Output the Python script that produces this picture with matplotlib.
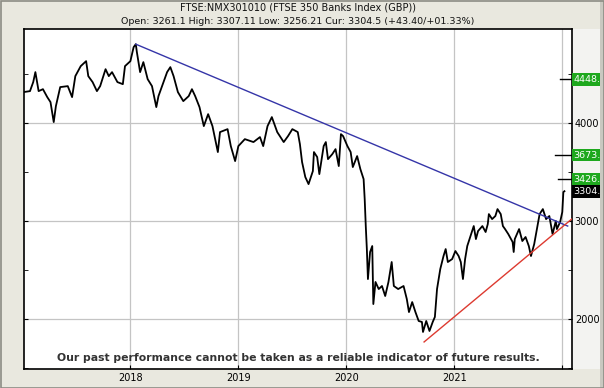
"""FTSE 350 Banks Index chart with trend lines and target levels."""
import matplotlib
matplotlib.use("Agg")
import matplotlib.pyplot as plt
import matplotlib.patches as mpatches
from matplotlib.ticker import MultipleLocator, FixedLocator

# ---- data ----
years = [2017.01, 2017.07, 2017.10, 2017.12, 2017.15, 2017.19, 2017.23, 2017.26, 2017.29, 2017.31,
         2017.35, 2017.42, 2017.46, 2017.49, 2017.54, 2017.59, 2017.61, 2017.65, 2017.69, 2017.72,
         2017.77, 2017.80, 2017.83, 2017.88, 2017.93, 2017.95, 2018.00, 2018.03, 2018.05, 2018.06,
         2018.09, 2018.12, 2018.16, 2018.20, 2018.24, 2018.26, 2018.30, 2018.34, 2018.37, 2018.40,
         2018.44, 2018.49, 2018.54, 2018.57, 2018.60, 2018.64, 2018.68, 2018.72, 2018.76, 2018.81,
         2018.83, 2018.90, 2018.93, 2018.97, 2019.00, 2019.06, 2019.14, 2019.20, 2019.23, 2019.27,
         2019.31, 2019.36, 2019.42, 2019.46, 2019.50, 2019.55, 2019.57, 2019.59, 2019.62, 2019.65,
         2019.69, 2019.70, 2019.73, 2019.75, 2019.79, 2019.81, 2019.83, 2019.87, 2019.90, 2019.93,
         2019.95, 2019.97, 2020.01, 2020.04, 2020.06, 2020.10, 2020.13, 2020.16, 2020.17, 2020.18,
         2020.19, 2020.20, 2020.22, 2020.24, 2020.25, 2020.27, 2020.30, 2020.33, 2020.36, 2020.39,
         2020.42, 2020.44, 2020.48, 2020.53, 2020.56, 2020.58, 2020.61, 2020.64, 2020.67, 2020.70,
         2020.71, 2020.74, 2020.77, 2020.80, 2020.82, 2020.84, 2020.87, 2020.90, 2020.92, 2020.94,
         2020.98, 2021.01, 2021.04, 2021.06, 2021.08, 2021.10, 2021.12, 2021.15, 2021.18, 2021.20,
         2021.22, 2021.26, 2021.29, 2021.31, 2021.32, 2021.35, 2021.38, 2021.40, 2021.43, 2021.45,
         2021.47, 2021.50, 2021.54, 2021.55, 2021.56, 2021.60, 2021.63, 2021.66, 2021.69, 2021.71,
         2021.74, 2021.77, 2021.79, 2021.82, 2021.85, 2021.88, 2021.91, 2021.94, 2021.95, 2021.98,
         2022.00, 2022.01, 2022.02]
prices = [4316, 4326, 4418, 4520, 4326, 4346, 4265, 4214, 4010, 4173,
          4367, 4377, 4265, 4479, 4581, 4632, 4479, 4418, 4326, 4377,
          4550, 4479, 4520, 4418, 4397, 4581, 4632, 4775, 4805, 4724,
          4520, 4622, 4448, 4377, 4163, 4275, 4397, 4520, 4571, 4479,
          4316, 4224, 4275, 4346, 4275, 4163, 3969, 4091, 3969, 3704,
          3908, 3938, 3765, 3612, 3765, 3836, 3806, 3857, 3765, 3969,
          4061, 3908, 3806, 3867, 3938, 3908, 3785, 3602, 3449, 3377,
          3510, 3704, 3653, 3479, 3765, 3806, 3632, 3683, 3734, 3561,
          3887, 3867, 3765, 3704, 3551, 3663, 3530, 3428, 3224, 2949,
          2714, 2408, 2684, 2745, 2153, 2378, 2306, 2337, 2235, 2378,
          2582, 2337, 2306, 2337, 2204, 2071, 2173, 2071, 1980, 1970,
          1868, 1980, 1878, 1970, 2021, 2306, 2510, 2643, 2714, 2582,
          2612, 2694, 2643, 2582, 2408, 2612, 2745, 2847, 2949, 2816,
          2898, 2949, 2888, 2969, 3071, 3020, 3051, 3122, 3071, 2949,
          2918, 2867, 2786, 2684, 2816, 2918, 2796, 2837, 2745, 2643,
          2765, 2949, 3071, 3122, 3020, 3051, 2867, 3000, 2918, 2990,
          3092, 3296, 3304.5]

down_trend_x = [2018.05, 2022.05]
down_trend_y = [4805, 2949]
up_trend_x = [2020.72, 2022.12]
up_trend_y = [1766, 3050]

target_levels = [4448.0, 3673.5, 3426.1]
target_labels = ["4448.0", "3673.5", "3426.1"]
target_line_start = [0.978, 0.969, 0.974]
current_price = 3304.5
current_label = "3304.5"

year_ticks = [2018, 2019, 2020, 2021, 2022]
year_labels = ["2018", "2019", "2020", "2021", ""]

W, H = 604, 388
FRAME = "#e9e8df"
GREEN = "#1ea81e"

fig = plt.figure(figsize=(W / 100, H / 100), dpi=100)
fig.patch.set_facecolor(FRAME)

# light label panel on the right + outer border
fig.patches.append(mpatches.Rectangle((572 / W, 1 - 369 / H), 28 / W, 340 / H,
                                      transform=fig.transFigure, facecolor="#f3f3f1",
                                      edgecolor="none", zorder=-1))
fig.patches.append(mpatches.Rectangle((600 / W, 0), 4 / W, 1, transform=fig.transFigure,
                                      facecolor="#c9c8c0", edgecolor="none", zorder=5))
fig.patches.append(mpatches.Rectangle((0.5 / W, 0.5 / H), 1 - 1 / W, 1 - 1 / H,
                                      transform=fig.transFigure, facecolor="none",
                                      edgecolor="#8c8c84", lw=1.2, zorder=6))

ax = fig.add_axes([23.5 / W, 1 - 369 / H, (572 - 23.5) / W, (369 - 29) / H])
ax.set_facecolor("white")
ax.set_xlim(2017.01, 2022.09)
ax.set_ylim(1490, 4960)

ax.plot(years, prices, color="black", lw=1.3, zorder=3)
ax.plot(down_trend_x, down_trend_y, color="#3535a8", lw=1.0, zorder=4)
ax.plot(up_trend_x, up_trend_y, color="#dd3a30", lw=1.0, zorder=4)

# grid
ax.set_xticks(year_ticks)
ax.set_xticklabels(year_labels)
ax.yaxis.set_major_locator(FixedLocator([2000, 3000, 4000]))
ax.yaxis.set_minor_locator(MultipleLocator(500))
ax.grid(True, which="major", color="#c4c4c4", lw=0.9)
ax.set_axisbelow(True)

ax.tick_params(axis="x", direction="in", length=3, labelsize=7, pad=3, top=False)
ax.tick_params(axis="y", which="both", direction="in", length=3, left=True, right=True,
               labelleft=False, labelright=True, labelsize=7, pad=2)
for s in ax.spines.values():
    s.set_linewidth(1.2)
    s.set_color("black")

# target markers and labels
for lvl, lab, x0 in zip(target_levels, target_labels, target_line_start):
    ax.axhline(lvl, xmin=x0, xmax=1.0, color="black", lw=1.0, clip_on=False, zorder=5)
    ax.text(1.003, lvl, lab, transform=ax.get_yaxis_transform(), ha="left", va="center",
            fontsize=6.8, color="white", clip_on=False, zorder=6,
            bbox=dict(boxstyle="square,pad=0.2", facecolor=GREEN, edgecolor="none"))
ax.text(1.003, current_price, current_label, transform=ax.get_yaxis_transform(),
        ha="left", va="center", fontsize=6.8, color="white", clip_on=False, zorder=6,
        bbox=dict(boxstyle="square,pad=0.2", facecolor="black", edgecolor="none"))

# titles
fig.text(298 / W, 1 - 8 / H, "FTSE:NMX301010 (FTSE 350 Banks Index (GBP))",
         ha="center", va="center", fontsize=7, color="#111")
fig.text(298 / W, 1 - 21 / H,
         "Open: 3261.1 High: 3307.11 Low: 3256.21 Cur: 3304.5 (+43.40/+01.33%)",
         ha="center", va="center", fontsize=6.8, color="#111")

fig.text(298 / W, 1 - 358 / H,
         "Our past performance cannot be taken as a reliable indicator of future results.",
         ha="center", va="center", fontsize=7.8, fontweight="bold", color="#333",
         zorder=7)

fig.savefig("out.png", dpi=100, facecolor=FRAME)
